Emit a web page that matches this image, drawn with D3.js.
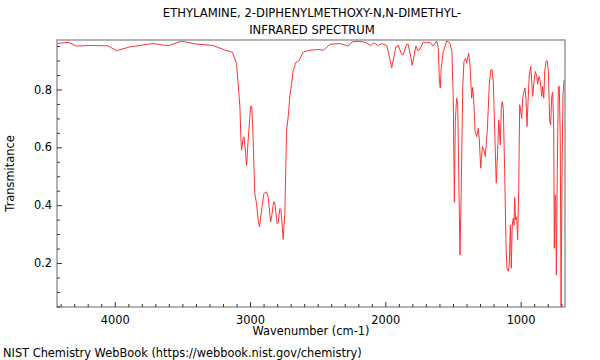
<!DOCTYPE html>
<html>
<head>
<meta charset="utf-8">
<script src="https://cdn.jsdelivr.net/npm/d3@7"></script>
<style>
  html, body { margin: 0; padding: 0; background: #fff; }
  svg { display: block; font-family: "DejaVu Sans", sans-serif; }
</style>
</head>
<body>
<svg id="chart" width="600" height="360"></svg>
<script>
const titleLines = ["ETHYLAMINE, 2-DIPHENYLMETHOXY-N,N-DIMETHYL-", "INFRARED SPECTRUM"];
const xLabel = "Wavenumber (cm-1)";
const yLabel = "Transmitance";
const footer = "NIST Chemistry WebBook (https://webbook.nist.gov/chemistry)";

const xMajorTicks = [4000, 3000, 2000, 1000];
const yMajorTicks = [0.2, 0.4, 0.6, 0.8];

const wavenumber = [
  4427, 4345, 4283, 4185, 4050, 3987, 3889, 3717, 3606, 3507, 3396, 3273, 3186, 3130,
  3100, 3088, 3075, 3068, 3063, 3051, 3044, 3033, 3026, 3014, 3002, 2994, 2987, 2977,
  2965, 2952, 2940, 2930, 2915, 2898, 2878, 2866, 2848, 2839, 2826, 2817, 2800, 2792,
  2780, 2772, 2755, 2743, 2730, 2718, 2705, 2693, 2681, 2663, 2639, 2607, 2558, 2484,
  2459, 2410, 2336, 2274, 2249, 2188, 2138, 2109, 2084, 2053, 2027, 1990, 1971, 1953,
  1942, 1922, 1905, 1880, 1868, 1843, 1831, 1813, 1801, 1789, 1774, 1757, 1744, 1720,
  1695, 1670, 1646, 1621, 1609, 1601, 1594, 1587, 1572, 1547, 1522, 1508, 1498, 1490,
  1483, 1473, 1465, 1456, 1448, 1441, 1428, 1419, 1406, 1399, 1384, 1374, 1362, 1354,
  1345, 1337, 1325, 1313, 1306, 1295, 1283, 1271, 1261, 1246, 1232, 1221, 1212, 1202,
  1190, 1180, 1169, 1162, 1158, 1150, 1143, 1136, 1128, 1118, 1108, 1101, 1091, 1084,
  1076, 1069, 1062, 1054, 1049, 1044, 1037, 1029, 1022, 1014, 1007, 999, 992, 985,
  975, 968, 960, 953, 943, 936, 925, 918, 911, 901, 891, 881, 874, 864,
  854, 844, 837, 829, 822, 812, 803, 795, 785, 778, 770, 763, 755, 751,
  746, 741, 736, 729, 721, 714, 707, 701, 694, 687, 679, 672
];
const transmittance = [
  0.959, 0.963, 0.950, 0.952, 0.951, 0.934, 0.947, 0.959, 0.951, 0.967, 0.957, 0.952, 0.936, 0.929,
  0.890, 0.820, 0.740, 0.636, 0.590, 0.630, 0.636, 0.579, 0.538, 0.625, 0.705, 0.743, 0.742, 0.625,
  0.440, 0.405, 0.348, 0.325, 0.382, 0.440, 0.446, 0.428, 0.342, 0.365, 0.411, 0.410, 0.336, 0.340,
  0.388, 0.386, 0.282, 0.371, 0.659, 0.705, 0.780, 0.820, 0.867, 0.892, 0.899, 0.929, 0.936, 0.938,
  0.935, 0.956, 0.959, 0.950, 0.964, 0.967, 0.961, 0.952, 0.961, 0.952, 0.959, 0.952, 0.915, 0.875,
  0.900, 0.947, 0.952, 0.921, 0.920, 0.956, 0.956, 0.915, 0.883, 0.915, 0.950, 0.933, 0.940, 0.964,
  0.961, 0.963, 0.950, 0.967, 0.945, 0.839, 0.805, 0.874, 0.930, 0.968, 0.960, 0.931, 0.770, 0.410,
  0.690, 0.770, 0.747, 0.458, 0.228, 0.400, 0.805, 0.897, 0.908, 0.891, 0.925, 0.885, 0.770, 0.807,
  0.747, 0.655, 0.637, 0.666, 0.631, 0.528, 0.603, 0.591, 0.568, 0.660, 0.816, 0.868, 0.868, 0.828,
  0.631, 0.476, 0.597, 0.695, 0.670, 0.608, 0.735, 0.758, 0.735, 0.516, 0.262, 0.182, 0.172, 0.193,
  0.331, 0.182, 0.331, 0.355, 0.330, 0.426, 0.349, 0.360, 0.280, 0.458, 0.747, 0.724, 0.700, 0.770,
  0.793, 0.805, 0.764, 0.672, 0.780, 0.850, 0.880, 0.828, 0.776, 0.828, 0.862, 0.845, 0.818, 0.845,
  0.828, 0.776, 0.810, 0.770, 0.862, 0.897, 0.900, 0.862, 0.690, 0.678, 0.776, 0.790, 0.655, 0.251,
  0.435, 0.435, 0.159, 0.516, 0.810, 0.810, 0.631, 0.030, 0.500, 0.780, 0.833, 0.830
];

const svg = d3.select("#chart");
const mLeft = 57, mRight = 565, mTop = 40, mBottom = 307;

const x = d3.scaleLinear().domain([4427, 672]).range([mLeft, mRight]);
const y = d3.scaleLinear().domain([0.048, 0.971]).range([mBottom, mTop]);

const fontSize = 11.4;
const titleSize = 11.6;

// Title
svg.append("g").selectAll("text").data(titleLines).join("text")
  .attr("x", (mLeft + mRight) / 2 + 1)
  .attr("y", (d, i) => 17 + i * 17)
  .attr("text-anchor", "middle")
  .attr("font-size", titleSize)
  .attr("fill", "#000")
  .text(d => d);

// Clip
svg.append("defs").append("clipPath").attr("id", "clip")
  .append("rect").attr("x", mLeft).attr("y", mTop).attr("width", mRight - mLeft).attr("height", mBottom - mTop);

// Spectrum line
const pts = wavenumber.map((w, i) => [w, transmittance[i]]);
const line = d3.line().x(d => x(d[0])).y(d => y(d[1]));
svg.append("path")
  .datum(pts)
  .attr("clip-path", "url(#clip)")
  .attr("fill", "none")
  .attr("stroke", "#ff3333")
  .attr("stroke-width", 1)
  .attr("stroke-linejoin", "round")
  .attr("d", line);

// Frame
svg.append("rect")
  .attr("x", mLeft).attr("y", mTop)
  .attr("width", mRight - mLeft).attr("height", mBottom - mTop)
  .attr("fill", "none").attr("stroke", "#999").attr("stroke-width", 1.5);

// X axis ticks (inward)
const xMinor = d3.range(700, 4428, 100).filter(v => !xMajorTicks.includes(v));
const xAxisMajor = d3.axisBottom(x).tickValues(xMajorTicks).tickSize(-5).tickPadding(9).tickFormat(d3.format("d"));
const xAxisMinor = d3.axisBottom(x).tickValues(xMinor).tickSize(-3).tickFormat("");
const gxm = svg.append("g").attr("transform", `translate(0,${mBottom})`).call(xAxisMinor);
const gx = svg.append("g").attr("transform", `translate(0,${mBottom})`).call(xAxisMajor);
[gx, gxm].forEach(g => {
  g.select(".domain").remove();
  g.selectAll("line").attr("stroke", "#333");
});
gx.selectAll("text").attr("font-size", fontSize).attr("font-family", "DejaVu Sans").attr("fill", "#000");

// Y axis ticks (inward)
const yMinor = d3.range(1, 20).map(k => k * 0.05).filter(v => !yMajorTicks.some(m => Math.abs(m - v) < 1e-6) && v >= 0.048 && v <= 0.971);
const yAxisMajor = d3.axisLeft(y).tickValues(yMajorTicks).tickSize(-5).tickPadding(5).tickFormat(d3.format(".1f"));
const yAxisMinor = d3.axisLeft(y).tickValues(yMinor).tickSize(-3).tickFormat("");
const gym = svg.append("g").attr("transform", `translate(${mLeft},0)`).call(yAxisMinor);
const gy = svg.append("g").attr("transform", `translate(${mLeft},0)`).call(yAxisMajor);
[gy, gym].forEach(g => {
  g.select(".domain").remove();
  g.selectAll("line").attr("stroke", "#333");
});
gy.selectAll("text").attr("font-size", fontSize).attr("font-family", "DejaVu Sans").attr("fill", "#000");

// Axis labels
svg.append("text")
  .attr("x", (mLeft + mRight) / 2).attr("y", 335)
  .attr("text-anchor", "middle").attr("font-size", fontSize).attr("fill", "#000")
  .text(xLabel);
svg.append("text")
  .attr("transform", `translate(14,${(mTop + mBottom) / 2}) rotate(-90)`)
  .attr("text-anchor", "middle").attr("font-size", fontSize).attr("fill", "#000")
  .text(yLabel);

// Footer
svg.append("text")
  .attr("x", 3).attr("y", 357)
  .attr("font-size", fontSize).attr("fill", "#000")
  .text(footer);
</script>
</body>
</html>
